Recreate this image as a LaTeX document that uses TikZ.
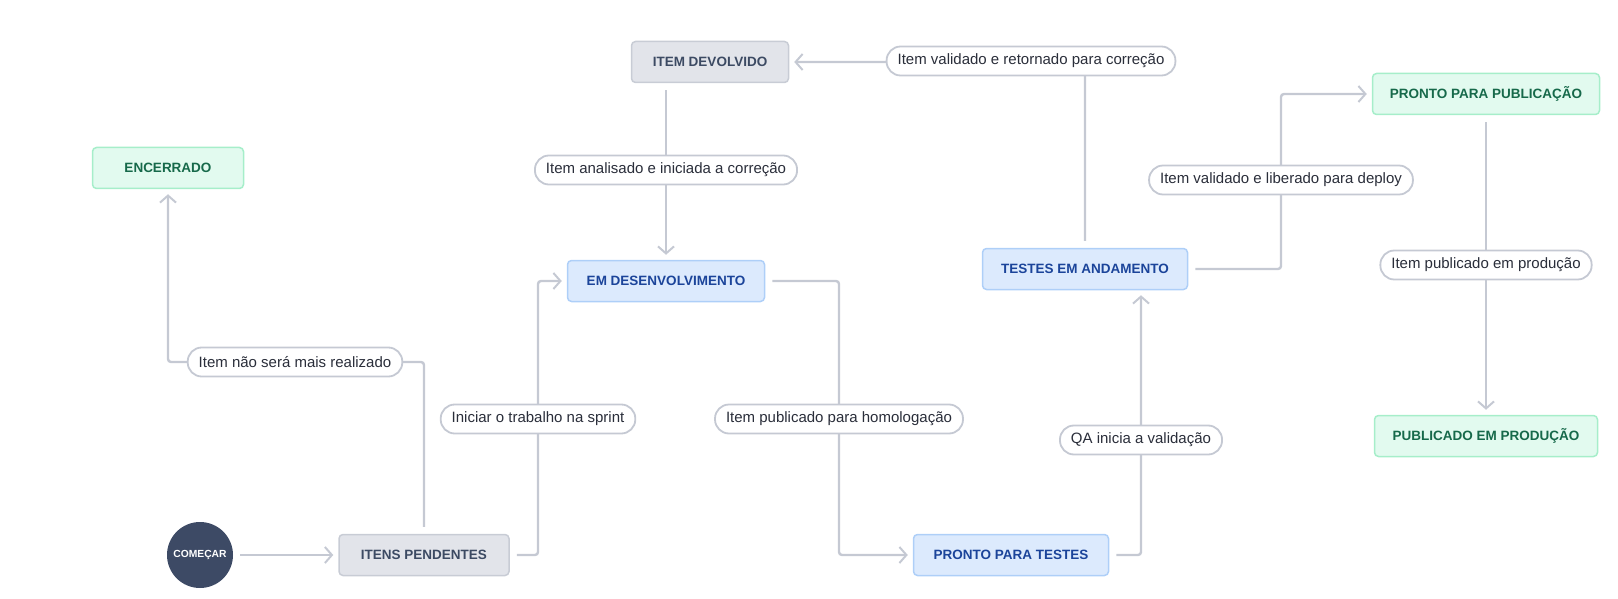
\documentclass[tikz,border=0pt]{standalone}
\usepackage{fontspec}
\setmainfont{Liberation Sans}
\usetikzlibrary{arrows.meta,backgrounds}
\definecolor{linec}{HTML}{C5C9D3}
\definecolor{grayf}{HTML}{E2E4EA}
\definecolor{grayb}{HTML}{C8CCD5}
\definecolor{grayt}{HTML}{3C4A63}
\definecolor{bluef}{HTML}{DCEAFD}
\definecolor{blueb}{HTML}{AECFF8}
\definecolor{bluet}{HTML}{1B449A}
\definecolor{greenf}{HTML}{E2FAEF}
\definecolor{greenb}{HTML}{A6EECA}
\definecolor{greent}{HTML}{16694A}
\definecolor{startf}{HTML}{3D4A65}
\definecolor{lblt}{HTML}{2A2E3A}
\tikzset{
  state/.style={rectangle, rounded corners=4pt, line width=1.5pt, minimum height=41pt, inner xsep=0pt, font=\bfseries\fontsize{13.5}{16}\selectfont},
  graystate/.style={state, draw=grayb, fill=grayf, text=grayt},
  bluestate/.style={state, draw=blueb, fill=bluef, text=bluet},
  greenstate/.style={state, draw=greenb, fill=greenf, text=greent},
  lbl/.style={rectangle, rounded corners=14pt, draw=linec, line width=1.8pt, fill=white, minimum height=29pt, inner xsep=11pt, text=lblt, font=\fontsize{15}{18}\selectfont},
  flow/.style={draw=linec, line width=2.4pt, rounded corners=3pt, shorten <=7pt},
  arr/.style={flow, -{Straight Barb[length=7pt,width=16pt,line width=2pt]}, shorten >=5pt}
}
\begin{document}
\begin{tikzpicture}[x=1pt, y=-1pt]
	\useasboundingbox (0,0) rectangle (1618,599);
	% states
	\node[circle, fill=startf, text=white, minimum size=66pt, inner sep=0pt, font=\bfseries\fontsize{10.3}{12}\selectfont] (comecar) at (200,555) {COMEÇAR};
	\node[graystate, minimum width=170pt] (itens) at (424,555) {ITENS PENDENTES};
	\node[bluestate, minimum width=197pt] (emdesenv) at (666,281) {EM DESENVOLVIMENTO};
	\node[graystate, minimum width=157pt] (devolvido) at (710,62) {ITEM DEVOLVIDO};
	\node[greenstate, minimum width=151pt] (encerrado) at (168,168) {ENCERRADO};
	\node[bluestate, minimum width=205pt] (testes) at (1085,269) {TESTES EM ANDAMENTO};
	\node[bluestate, minimum width=195pt] (prontotestes) at (1011,555) {PRONTO PARA TESTES};
	\node[greenstate, minimum width=227pt] (publicacao) at (1486,94) {PRONTO PARA PUBLICAÇÃO};
	\node[greenstate, minimum width=223pt] (publicado) at (1486,436) {PUBLICADO EM PRODUÇÃO};
	% transition labels
	\node[lbl] (retorno) at (1031,61) {Item validado e retornado para correção};
	\node[lbl] (correcao) at (666,170) {Item analisado e iniciada a correção};
	\node[lbl] (deploy) at (1281,180) {Item validado e liberado para deploy};
	\node[lbl] (producao) at (1486,265) {Item publicado em produção};
	\node[lbl] (sprint) at (538,419) {Iniciar o trabalho na sprint};
	\node[lbl] (naorealiz) at (295,362) {Item não será mais realizado};
	\node[lbl] (homolog) at (839,419) {Item publicado para homologação};
	\node[lbl] (qa) at (1141,440) {QA inicia a validação};
	% connectors
	\begin{scope}[on background layer]
		\draw[arr] (comecar) -- (itens);
		\draw[arr] (itens.east) -| (sprint.center) |- (emdesenv.west);
		\draw[arr] (itens.north) |- (naorealiz.center) -| (encerrado.south);
		\draw[arr] (devolvido.south -| emdesenv.north) -- (emdesenv.north);% down the middle of the lower box
		\draw[arr] (emdesenv.east) -| (homolog.center) |- (prontotestes.west);
		\draw[arr] (prontotestes.east) -| (qa.center) -- (qa |- testes.south);
		\draw[arr] (testes.north) |- (devolvido.east);
		\draw[arr] (testes.east) -| (deploy.center) |- (publicacao.west);
		\draw[arr] (publicacao.south) -- (publicado.north);
	\end{scope}
\end{tikzpicture}
\end{document}
